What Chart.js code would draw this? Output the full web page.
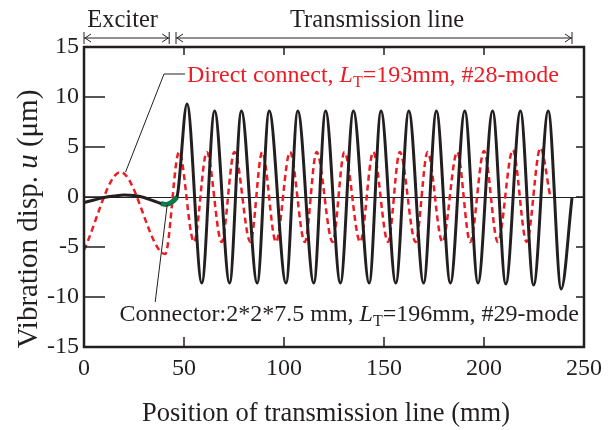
<!DOCTYPE html>
<html>
<head>
<meta charset="utf-8">
<script src="https://cdn.jsdelivr.net/npm/chart.js@4.4.0/dist/chart.umd.min.js"></script>
<style>
  html, body { margin: 0; padding: 0; background: #fff; }
</style>
</head>
<body>
<canvas id="chart" width="609" height="430"></canvas>
<script>
// ------------------ Data ------------------
const xTicks = [0, 50, 100, 150, 200, 250];
const yTicks = [-15, -10, -5, 0, 5, 10, 15];

// Connector 2*2*7.5 mm, L_T=196mm, #29-mode (black solid)
const blackX = [0, 5, 10, 15, 20, 25, 30, 35, 38.5, 41, 44, 46.5,
  51.5, 58.9, 65.3, 72.8, 78.7, 86.6, 92.6, 101, 106.9, 114.9, 120.8, 128.2,
  134.7, 142.6, 148.5, 155.9, 162.4, 169.8, 176.2, 183.2, 190.4, 197, 204.3,
  210.9, 218.2, 224.8, 232.1, 238.6, 244];
const blackY = [-0.55, -0.3, -0.05, 0.1, 0.2, 0.15, -0.05, -0.4, -0.65, -0.75, -0.5, 0,
  9.3, -8.6, 8.6, -8.6, 8.6, -8.6, 8.6, -8.6, 8.6, -8.6, 8.6, -8.6,
  8.6, -8.6, 8.6, -8.6, 8.6, -8.6, 8.6, -8.6, 8.6, -8.6, 8.6,
  -8.7, 8.6, -8.8, 8.6, -9.2, -0.1];

// Connector section (green)
const connX = [38.5, 41, 44, 46.5];
const connY = [-0.65, -0.75, -0.5, 0];

// Direct connect, L_T=193mm, #28-mode (red dashed)
const redX = [0, 18.3, 40.6, 47.5, 55, 61.4, 68.8, 75.2, 83.2, 89.1, 96, 103,
  110.4, 116.3, 124.3, 130.2, 138.1, 144.6, 152, 157.9, 165.8, 171.8, 179.2,
  186.6, 193.1, 200, 206.9, 214.4, 221.3, 228.2, 233];
const redY = [-5.3, 2.5, -5.7, 4.5, -4.5, 4.5, -4.5, 4.5, -4.5, 4.5, -4.5, 4.5,
  -4.5, 4.5, -4.5, 4.5, -4.5, 4.5, -4.5, 4.5, -4.5, 4.5, -4.5,
  4.5, -4.5, 4.6, -4.5, 4.7, -4.5, 4.9, 0.2];

const toPoints = (xs, ys) => xs.map((x, i) => ({ x: x, y: ys[i] }));

// ------------------ Style ------------------
const INK = '#231f20';
const RED = '#ed1c24';
const GREEN = '#0b7a4b';
const SERIF = '"Liberation Serif", "DejaVu Serif", serif';

// draw a run of text pieces (normal / italic / subscript) left to right
function drawRich(ctx, parts, x, y) {
    let cx = x;
    parts.forEach(p => {
        ctx.font = p.font;
        ctx.fillText(p.t, cx, y + (p.dy || 0));
        cx += ctx.measureText(p.t).width;
    });
    return cx - x;
}
function richWidth(ctx, parts) {
    let w = 0;
    parts.forEach(p => { ctx.font = p.font; w += ctx.measureText(p.t).width; });
    return w;
}

const F = '24px ' + SERIF;
const FI = 'italic 24px ' + SERIF;
const FS = '16px ' + SERIF;

// ------------------ Frame, inside ticks, annotations ------------------
const decorPlugin = {
    id: 'decor',
    afterDatasetsDraw(chart) {
        const { ctx, chartArea: a, scales: { x, y } } = chart;
        ctx.save();

        // inside tick marks
        ctx.strokeStyle = INK;
        ctx.lineWidth = 1.5;
        ctx.beginPath();
        xTicks.slice(1, -1).forEach(v => {
            const px = x.getPixelForValue(v);
            ctx.moveTo(px, a.bottom); ctx.lineTo(px, a.bottom - 10);
            ctx.moveTo(px, a.top); ctx.lineTo(px, a.top + 8);
        });
        yTicks.slice(1, -1).forEach(v => {
            const py = y.getPixelForValue(v);
            ctx.moveTo(a.left, py); ctx.lineTo(a.left + 21, py);
            ctx.moveTo(a.right, py); ctx.lineTo(a.right - 8, py);
        });
        ctx.stroke();

        // frame
        ctx.lineWidth = 2.5;
        ctx.strokeRect(a.left, a.top, a.right - a.left, a.bottom - a.top);

        // leader lines
        ctx.lineWidth = 1;
        ctx.beginPath();
        ctx.moveTo(x.getPixelForValue(50.5), y.getPixelForValue(12.3));
        ctx.lineTo(x.getPixelForValue(40), y.getPixelForValue(12.3));
        ctx.lineTo(x.getPixelForValue(20.8), y.getPixelForValue(2.5));
        ctx.moveTo(x.getPixelForValue(41.6), y.getPixelForValue(-0.8));
        ctx.lineTo(x.getPixelForValue(35.6), y.getPixelForValue(-10.5));
        ctx.stroke();

        // series labels
        ctx.textBaseline = 'alphabetic';
        ctx.textAlign = 'left';
        ctx.fillStyle = RED;
        drawRich(ctx, [
            { t: 'Direct connect, ', font: F },
            { t: 'L', font: FI },
            { t: 'T', font: FS, dy: 5 },
            { t: '=193mm, #28-mode', font: F }
        ], x.getPixelForValue(51.5), y.getPixelForValue(11.5));

        ctx.fillStyle = INK;
        drawRich(ctx, [
            { t: 'Connector:2*2*7.5 mm, ', font: F },
            { t: 'L', font: FI },
            { t: 'T', font: FS, dy: 5 },
            { t: '=196mm, #29-mode', font: F }
        ], x.getPixelForValue(17.8), y.getPixelForValue(-12.4));

        // section arrows above the plot
        const ay = a.top - 9;
        const span = (x0, x1) => {
            const p0 = x.getPixelForValue(x0), p1 = x.getPixelForValue(x1);
            ctx.beginPath();
            ctx.moveTo(p0, ay); ctx.lineTo(p1, ay);
            ctx.moveTo(p0, ay - 6); ctx.lineTo(p0, ay + 6);
            ctx.moveTo(p1, ay - 6); ctx.lineTo(p1, ay + 6);
            ctx.moveTo(p0 + 7, ay - 4); ctx.lineTo(p0 + 1, ay); ctx.lineTo(p0 + 7, ay + 4);
            ctx.moveTo(p1 - 7, ay - 4); ctx.lineTo(p1 - 1, ay); ctx.lineTo(p1 - 7, ay + 4);
            ctx.stroke();
        };
        ctx.lineWidth = 1;
        span(0, 42.6);
        span(46, 244);

        ctx.font = '24.5px ' + SERIF;
        ctx.textAlign = 'center';
        ctx.textBaseline = 'alphabetic';
        ctx.fillText('Exciter', x.getPixelForValue(19.3), 27);
        ctx.fillText('Transmission line', x.getPixelForValue(146.5), 27);

        // axis titles
        ctx.font = '26.5px ' + SERIF;
        ctx.fillText('Position of transmission line (mm)', 326, 421);

        const YF = '29px ' + SERIF;
        const yt = [
            { t: 'Vibration disp. ', font: YF },
            { t: 'u', font: 'italic ' + YF },
            { t: ' (\u03bcm)', font: YF }
        ];
        ctx.translate(37, 219);
        ctx.rotate(-Math.PI / 2);
        ctx.textAlign = 'left';
        drawRich(ctx, yt, -richWidth(ctx, yt) / 2, 0);

        ctx.restore();
    }
};

// ------------------ Chart ------------------
new Chart(document.getElementById('chart').getContext('2d'), {
    type: 'line',
    data: {
        datasets: [
            {
                label: 'Connector',
                data: toPoints(connX, connY),
                borderColor: GREEN,
                borderWidth: 5,
                pointRadius: 0,
                cubicInterpolationMode: 'monotone',
                order: 0
            },
            {
                label: 'Connector:2*2*7.5 mm, LT=196mm, #29-mode',
                data: toPoints(blackX, blackY),
                borderColor: INK,
                borderWidth: 3,
                pointRadius: 0,
                cubicInterpolationMode: 'monotone',
                order: 1
            },
            {
                label: 'Direct connect, LT=193mm, #28-mode',
                data: toPoints(redX, redY),
                borderColor: RED,
                borderWidth: 2.5,
                borderDash: [6, 4],
                pointRadius: 0,
                cubicInterpolationMode: 'monotone',
                order: 2
            }
        ]
    },
    options: {
        responsive: false,
        animation: false,
        layout: { padding: { top: 47, right: 20, left: 0, bottom: 0 } },
        plugins: {
            legend: { display: false },
            tooltip: { enabled: false }
        },
        scales: {
            x: {
                type: 'linear',
                min: 0,
                max: 250,
                afterFit: s => { s.height = 83; },
                afterBuildTicks: s => { s.ticks = xTicks.map(v => ({ value: v })); },
                grid: { display: false, drawTicks: false },
                border: { display: false },
                ticks: {
                    padding: 7,
                    color: INK,
                    font: { family: SERIF, size: 24 },
                    maxRotation: 0
                }
            },
            y: {
                min: -15,
                max: 15,
                afterFit: s => { s.width = 84; },
                afterBuildTicks: s => { s.ticks = yTicks.map(v => ({ value: v })); },
                grid: {
                    drawTicks: false,
                    lineWidth: 1,
                    color: c => (c.tick && c.tick.value === 0) ? INK : 'rgba(0,0,0,0)'
                },
                border: { display: false },
                ticks: {
                    padding: 5,
                    color: INK,
                    font: { family: SERIF, size: 24 }
                }
            }
        }
    },
    plugins: [decorPlugin]
});
</script>
</body>
</html>
